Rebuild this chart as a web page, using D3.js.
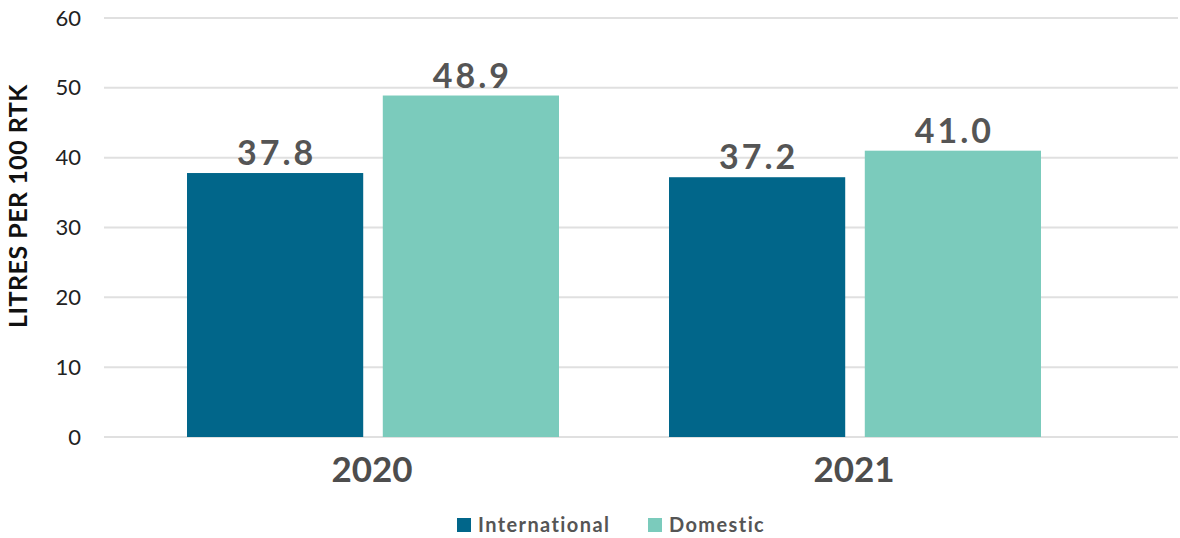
<!DOCTYPE html>
<html><head><meta charset="utf-8">
<script src="https://cdn.jsdelivr.net/npm/d3@7"></script>
<style>body{margin:0;background:#fff}svg{display:block}</style>
</head><body><svg id="c" width="1180" height="538"></svg>
<script>
const years = ["2020", "2021"];
const seriesNames = ["International", "Domestic"];
const international = [37.8, 37.2];
const domestic = [48.9, 41.0];
const yTicks = [0, 10, 20, 30, 40, 50, 60];
const yTitle = "LITRES PER 100 RTK";
const colors = ["#01668a", "#7bcbbc"];

const svg = d3.select("#c");
const font = "Lato, 'Open Sans', sans-serif";
const y = d3.scaleLinear().domain([0, 60]).range([437, 18]);
const x0 = d3.scaleBand().domain(years).range([132, 1096]).paddingInner(0).paddingOuter(0);
const x1 = d3.scaleBand().domain(seriesNames).range([55, 427]).paddingInner(0.1);
const gridX = [104, 1178];

// gridlines
svg.append("g").selectAll("line").data(yTicks).join("line")
  .attr("x1", gridX[0]).attr("x2", gridX[1])
  .attr("y1", d => y(d)).attr("y2", d => y(d))
  .attr("stroke", "#e0e0e0").attr("stroke-width", 2);

// y labels
const yAxis = d3.axisLeft(y).tickValues(yTicks).tickSize(0).tickPadding(0);
const ga = svg.append("g").attr("transform", "translate(81,0)").call(yAxis);
ga.select(".domain").remove();
ga.selectAll("text").attr("font-family", font).attr("font-size", 22).attr("fill", "#222");

// y title
svg.append("text").attr("transform", "translate(27,206) rotate(-90)")
  .attr("text-anchor", "middle").attr("font-family", font).attr("font-weight", 700)
  .attr("font-size", 25).attr("letter-spacing", 0.5).attr("fill", "#111").text(yTitle);

const data = years.map((yr, i) => ({year: yr, vals: [international[i], domestic[i]]}));
const groups = svg.append("g").selectAll("g").data(data).join("g")
  .attr("transform", d => `translate(${x0(d.year)},0)`);
groups.selectAll("rect").data(d => d.vals.map((v, j) => ({v, s: seriesNames[j], j}))).join("rect")
  .attr("x", d => x1(d.s)).attr("width", x1.bandwidth())
  .attr("y", d => y(d.v)).attr("height", d => y(0) - y(d.v))
  .attr("fill", d => colors[d.j]);
groups.selectAll("text.val").data(d => d.vals.map((v, j) => ({v, s: seriesNames[j]}))).join("text")
  .attr("class", "val")
  .attr("x", d => x1(d.s) + x1.bandwidth() / 2 + 1.5).attr("y", d => y(d.v) - 8)
  .attr("text-anchor", "middle").attr("font-family", font).attr("font-weight", 700)
  .attr("font-size", 34).attr("letter-spacing", 3).attr("fill", "#555").text(d => d.v.toFixed(1));

// x labels
const xAxis = d3.axisBottom(x0).tickSize(0).tickPadding(0);
const gx = svg.append("g").attr("transform", "translate(-1,482)").call(xAxis);
gx.select(".domain").remove();
gx.selectAll("text").attr("dy", 0).attr("font-family", font).attr("font-weight", 700)
  .attr("font-size", 35).attr("fill", "#4d4d4d");

// legend
const legX = [457, 648];
const lg = svg.append("g").selectAll("g").data(seriesNames).join("g")
  .attr("transform", (d, i) => `translate(${legX[i]},518)`);
lg.append("rect").attr("width", 14).attr("height", 14).attr("fill", (d, i) => colors[i]);
lg.append("text").attr("x", 21).attr("y", 14).attr("font-family", font).attr("font-weight", 700)
  .attr("font-size", 20).attr("letter-spacing", 1.4).attr("fill", "#555").text(d => d);
</script></body></html>
